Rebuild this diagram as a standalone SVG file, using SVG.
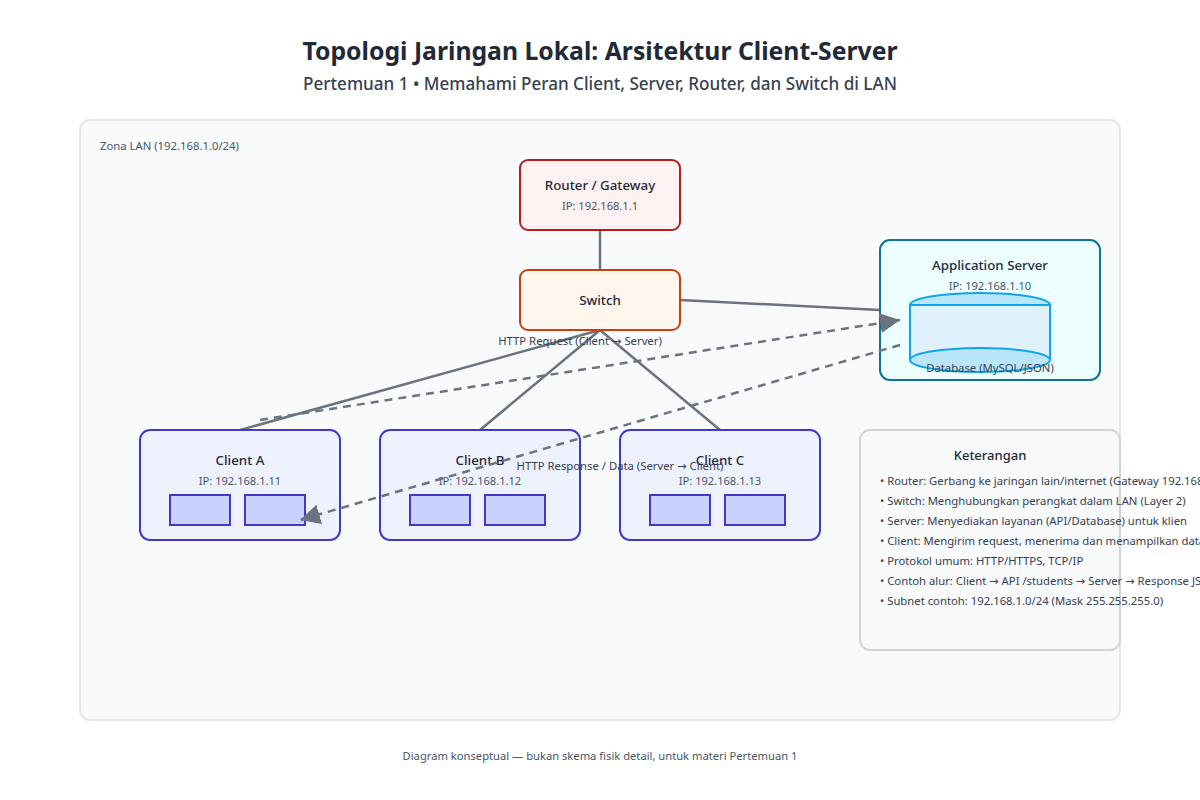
<svg xmlns="http://www.w3.org/2000/svg" width="1200" height="800" viewBox="0 0 1200 800">
<style>
text{font-family:"Noto Sans","Open Sans",sans-serif;text-anchor:middle}
.t{font-size:13.3px;font-weight:500;fill:#1f2937}
.s{font-size:11.1px;fill:#4b5563}
.f{font-size:11.3px;fill:#374151}
.l{font-size:11.3px;fill:#374151;text-anchor:start}
.ar{font-family:"DejaVu Sans",sans-serif}
.c{fill:#eef2ff;stroke:#4338ca;stroke-width:2}
.p{fill:#c7d2fe;stroke:#4338ca;stroke-width:2}
.w{fill:none;stroke:#6b7280;stroke-width:2.5}
.d{fill:none;stroke:#6b7280;stroke-width:2.5;stroke-dasharray:8 6;marker-end:url(#a)}
</style>
<defs><marker id="a" viewBox="0 0 10 10" refX="10" refY="5" markerWidth="8" markerHeight="8" orient="auto"><path d="M0 0L10 5L0 10z" fill="#6b7280"/></marker></defs>
<rect width="1200" height="800" fill="#fff"/>
<text x="600" y="60" font-size="24.75" font-weight="700" fill="#1f2937">Topologi Jaringan Lokal: Arsitektur Client-Server</text>
<text x="600" y="90" font-size="17.1" font-weight="500" fill="#374151">Pertemuan 1 • Memahami Peran Client, Server, Router, dan Switch di LAN</text>
<g id="zone"><rect x="80" y="120" width="1040" height="600" rx="10" fill="#f9fafb" stroke="#e5e7eb" stroke-width="2"/>
<text x="100" y="150" class="l" style="fill:#4b5563">Zona LAN (192.168.1.0/24)</text></g>
<g id="links">
<path class="w" d="M600 230V270"/>
<path class="w" d="M680 300L880 310"/>
<path class="w" d="M600 330L240 430"/>
<path class="w" d="M600 330L480 430"/>
<path class="w" d="M600 330L720 430"/>
</g>
<g id="router"><rect x="520" y="160" width="160" height="70" rx="8" fill="#fef2f2" stroke="#b91c1c" stroke-width="2"/>
<text x="600" y="190" class="t">Router / Gateway</text><text x="600" y="210" class="s">IP: 192.168.1.1</text></g>
<g id="switch"><rect x="520" y="270" width="160" height="60" rx="8" fill="#fff7ed" stroke="#c2410c" stroke-width="2"/>
<text x="600" y="305" class="t">Switch</text></g>
<g id="server"><rect x="880" y="240" width="220" height="140" rx="10" fill="#ecfeff" stroke="#0e7490" stroke-width="2"/>
<text x="990" y="270" class="t">Application Server</text><text x="990" y="290" class="s">IP: 192.168.1.10</text>
<g id="database"><rect x="910" y="305" width="140" height="55" fill="#e0f2fe" stroke="none"/>
<ellipse cx="980" cy="360" rx="70" ry="12" fill="#bae6fd" stroke="#0ea5e9" stroke-width="2"/>
<path d="M910 305V360M1050 305V360" stroke="#0ea5e9" stroke-width="2" fill="none"/>
<path d="M910 305A70 12 0 0 1 1050 305Z" fill="#bae6fd" stroke="#0ea5e9" stroke-width="2"/>
<text x="990" y="372" class="f">Database (MySQL/JSON)</text></g></g>
<g id="client-a"><rect class="c" x="140" y="430" width="200" height="110" rx="10"/>
<text x="240" y="465" class="t">Client A</text><text x="240" y="485" class="s">IP: 192.168.1.11</text>
<rect class="p" x="170" y="495" width="60" height="30"/><rect class="p" x="245" y="495" width="60" height="30"/></g>
<g id="client-b"><rect class="c" x="380" y="430" width="200" height="110" rx="10"/>
<text x="480" y="465" class="t">Client B</text><text x="480" y="485" class="s">IP: 192.168.1.12</text>
<rect class="p" x="410" y="495" width="60" height="30"/><rect class="p" x="485" y="495" width="60" height="30"/></g>
<g id="client-c"><rect class="c" x="620" y="430" width="200" height="110" rx="10"/>
<text x="720" y="465" class="t">Client C</text><text x="720" y="485" class="s">IP: 192.168.1.13</text>
<rect class="p" x="650" y="495" width="60" height="30"/><rect class="p" x="725" y="495" width="60" height="30"/></g>
<g id="flows">
<path class="d" d="M260 420L900 320"/>
<path class="d" d="M900 345L300 520"/>
<text x="580" y="345" class="f">HTTP Request (Client <tspan class="ar">→</tspan> Server)</text>
<text x="620" y="470" class="f">HTTP Response / Data (Server <tspan class="ar">→</tspan> Client)</text>
</g>
<g id="legend"><rect x="860" y="430" width="260" height="220" rx="10" fill="#fff" fill-opacity="0" stroke="#d1d5db" stroke-width="2"/>
<text x="990" y="460" class="t" style="font-size:13px">Keterangan</text>
<text x="880" y="485" class="l">• Router: Gerbang ke jaringan lain/internet (Gateway 192.168.1.1)</text>
<text x="880" y="505" class="l">• Switch: Menghubungkan perangkat dalam LAN (Layer 2)</text>
<text x="880" y="525" class="l">• Server: Menyediakan layanan (API/Database) untuk klien</text>
<text x="880" y="545" class="l">• Client: Mengirim request, menerima dan menampilkan data</text>
<text x="880" y="565" class="l">• Protokol umum: HTTP/HTTPS, TCP/IP</text>
<text x="880" y="585" class="l">• Contoh alur: Client <tspan class="ar">→</tspan> API /students <tspan class="ar">→</tspan> Server <tspan class="ar">→</tspan> Response JSON</text>
<text x="880" y="605" class="l">• Subnet contoh: 192.168.1.0/24 (Mask 255.255.255.0)</text></g>
<text x="600" y="760" font-size="11.2" fill="#4b5563">Diagram konseptual — bukan skema fisik detail, untuk materi Pertemuan 1</text>
</svg>
